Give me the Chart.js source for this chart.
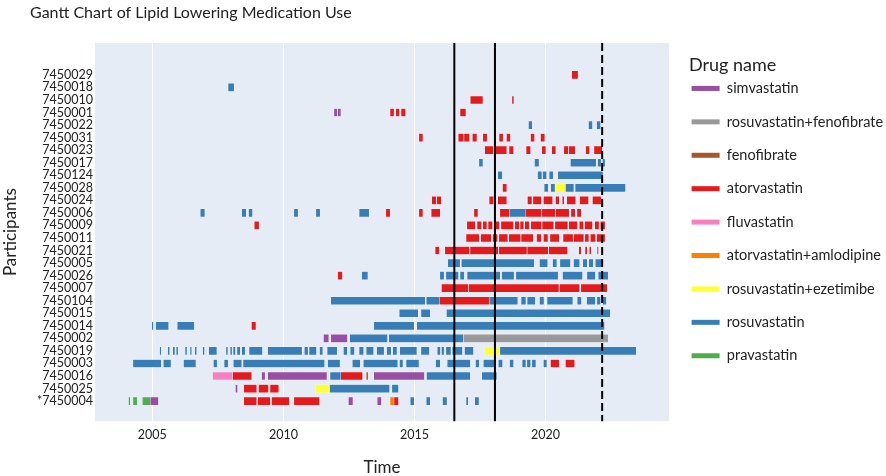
<!DOCTYPE html>
<html>
<head>
<meta charset="utf-8">
<title>Gantt Chart of Lipid Lowering Medication Use</title>
<script src="https://cdn.jsdelivr.net/npm/chart.js@4.4.1/dist/chart.umd.min.js"></script>
<style>
  html, body { margin: 0; padding: 0; background: #fff; }
  #wrap { width: 886px; height: 476px; }
</style>
</head>
<body>
<div id="wrap"><canvas id="gantt" width="886" height="476"></canvas></div>
<script>
// participants, top row first
const participants = ['7450029','7450018','7450010','7450001','7450022','7450031','7450023','7450017',
  '7450124','7450028','7450024','7450006','7450009','7450011','7450021','7450005','7450026','7450007',
  '7450104','7450015','7450014','7450002','7450019','7450003','7450016','7450025','*7450004'];

// [participant, start year, end year]
const simvastatin = [
  ['7450001', 2011.93, 2012.05], ['7450001', 2012.07, 2012.19],
  ['7450002', 2011.53, 2011.73], ['7450002', 2011.81, 2012.44],
  ['7450016', 2009.17, 2009.30], ['7450016', 2009.40, 2011.66], ['7450016', 2013.45, 2015.38],
  ['7450025', 2008.17, 2008.25],
  ['*7450004', 2004.92, 2005.23], ['*7450004', 2012.48, 2012.65], ['*7450004', 2013.58, 2013.74]
];
const rosuFeno = [['7450002', 2016.87, 2022.39]];
const fenofibrate = [['7450016', 2013.16, 2013.23]];
const atorvastatin = [
  ['7450029', 2021.00, 2021.24],
  ['7450010', 2017.13, 2017.61], ['7450010', 2018.72, 2018.79],
  ['7450001', 2014.07, 2014.22], ['7450001', 2014.29, 2014.43], ['7450001', 2014.49, 2014.66], ['7450001', 2016.74, 2016.96],
  ['7450031', 2015.17, 2015.32], ['7450031', 2016.67, 2016.88], ['7450031', 2016.89, 2017.10], ['7450031', 2017.21, 2017.38],
  ['7450031', 2017.61, 2017.77], ['7450031', 2018.23, 2018.38], ['7450031', 2018.51, 2018.66], ['7450031', 2019.43, 2019.58],
  ['7450031', 2019.81, 2019.97],
  ['7450023', 2017.68, 2018.01], ['7450023', 2018.02, 2018.52], ['7450023', 2018.61, 2018.78], ['7450023', 2019.26, 2019.43],
  ['7450023', 2019.86, 2020.01], ['7450023', 2020.24, 2020.39], ['7450023', 2020.70, 2020.87], ['7450023', 2020.89, 2021.13],
  ['7450023', 2021.53, 2021.68], ['7450023', 2021.85, 2022.16],
  ['7450028', 2018.36, 2018.52],
  ['7450024', 2015.66, 2015.83], ['7450024', 2015.85, 2016.02], ['7450024', 2017.85, 2018.02], ['7450024', 2018.18, 2018.52],
  ['7450024', 2019.31, 2019.48], ['7450024', 2019.52, 2019.84], ['7450024', 2019.92, 2020.27], ['7450024', 2020.38, 2020.52],
  ['7450024', 2020.64, 2020.71], ['7450024', 2020.81, 2021.15], ['7450024', 2021.30, 2021.64], ['7450024', 2021.79, 2022.12],
  ['7450006', 2013.91, 2014.07], ['7450006', 2015.17, 2015.32], ['7450006', 2015.64, 2015.98], ['7450006', 2017.27, 2017.42],
  ['7450006', 2018.26, 2018.63], ['7450006', 2019.25, 2019.85], ['7450006', 2019.86, 2020.37], ['7450006', 2020.38, 2020.90],
  ['7450006', 2020.97, 2021.13], ['7450006', 2021.20, 2021.36],
  ['7450009', 2008.89, 2009.07], ['7450009', 2017.00, 2017.32], ['7450009', 2017.39, 2017.56], ['7450009', 2017.61, 2017.76],
  ['7450009', 2017.81, 2017.98], ['7450009', 2018.03, 2018.24], ['7450009', 2018.30, 2018.78], ['7450009', 2018.83, 2019.00],
  ['7450009', 2019.03, 2019.17], ['7450009', 2019.21, 2019.38], ['7450009', 2019.44, 2019.85], ['7450009', 2019.87, 2020.31],
  ['7450009', 2020.36, 2020.85], ['7450009', 2020.89, 2021.22], ['7450009', 2021.29, 2021.45], ['7450009', 2021.49, 2021.79],
  ['7450009', 2021.88, 2022.04], ['7450009', 2022.09, 2022.27],
  ['7450011', 2016.97, 2017.47], ['7450011', 2017.53, 2017.93], ['7450011', 2017.98, 2018.17], ['7450011', 2018.22, 2018.56],
  ['7450011', 2018.60, 2019.05], ['7450011', 2019.07, 2019.53], ['7450011', 2019.66, 2019.84], ['7450011', 2019.92, 2020.09],
  ['7450011', 2020.17, 2020.52], ['7450011', 2020.67, 2021.05], ['7450011', 2021.07, 2021.46], ['7450011', 2021.50, 2021.65],
  ['7450011', 2021.71, 2021.91], ['7450011', 2021.95, 2022.27],
  ['7450021', 2015.79, 2015.95], ['7450021', 2016.16, 2017.10], ['7450021', 2017.12, 2018.20], ['7450021', 2018.22, 2019.29],
  ['7450021', 2019.30, 2020.10], ['7450021', 2020.12, 2020.84], ['7450021', 2021.27, 2021.36], ['7450021', 2021.51, 2021.59],
  ['7450021', 2021.67, 2021.74], ['7450021', 2021.97, 2022.02],
  ['7450026', 2012.07, 2012.25],
  ['7450007', 2016.03, 2017.06], ['7450007', 2017.07, 2020.51], ['7450007', 2020.53, 2021.30], ['7450007', 2021.35, 2022.35],
  ['7450104', 2015.95, 2017.85],
  ['7450014', 2008.78, 2008.95],
  ['7450003', 2020.19, 2020.52], ['7450003', 2020.76, 2021.11],
  ['7450016', 2008.07, 2008.79], ['7450016', 2012.19, 2013.02],
  ['7450025', 2008.49, 2008.98], ['7450025', 2009.05, 2009.43], ['7450025', 2009.49, 2009.82],
  ['*7450004', 2008.49, 2008.98], ['*7450004', 2009.02, 2009.50], ['*7450004', 2009.55, 2010.22], ['*7450004', 2010.40, 2011.38],
  ['*7450004', 2014.22, 2014.39]
];
const fluvastatin = [['7450016', 2007.30, 2008.07]];
const atorvAmlo = [['*7450004', 2014.07, 2014.22]];
const rosuEzet = [['7450028', 2020.37, 2020.75], ['7450019', 2017.67, 2018.26], ['7450025', 2011.22, 2011.76]];
const rosuvastatin = [
  ['7450018', 2007.89, 2008.12],
  ['7450022', 2019.35, 2019.49], ['7450022', 2021.64, 2021.79], ['7450022', 2021.95, 2022.10],
  ['7450017', 2017.46, 2017.61], ['7450017', 2019.58, 2019.75], ['7450017', 2020.95, 2021.93], ['7450017', 2021.99, 2022.12],
  ['7450017', 2022.17, 2022.27],
  ['7450124', 2018.18, 2018.35], ['7450124', 2019.70, 2019.86], ['7450124', 2019.89, 2020.04], ['7450124', 2020.14, 2020.29],
  ['7450124', 2020.47, 2022.19],
  ['7450028', 2019.95, 2020.10], ['7450028', 2020.20, 2020.36], ['7450028', 2020.76, 2021.08], ['7450028', 2021.13, 2023.05],
  ['7450006', 2006.83, 2007.00], ['7450006', 2008.41, 2008.58], ['7450006', 2008.67, 2008.82], ['7450006', 2010.40, 2010.56],
  ['7450006', 2011.24, 2011.40], ['7450006', 2012.89, 2013.27], ['7450006', 2018.63, 2019.25],
  ['7450005', 2016.27, 2016.74], ['7450005', 2016.79, 2019.57], ['7450005', 2019.77, 2020.08], ['7450005', 2020.27, 2020.43],
  ['7450005', 2020.55, 2020.95], ['7450005', 2021.07, 2021.30], ['7450005', 2021.42, 2021.59], ['7450005', 2021.65, 2021.82],
  ['7450005', 2021.90, 2022.20],
  ['7450026', 2012.99, 2013.22], ['7450026', 2015.97, 2016.13], ['7450026', 2016.20, 2016.68], ['7450026', 2016.74, 2016.90],
  ['7450026', 2017.01, 2018.27], ['7450026', 2018.33, 2018.80], ['7450026', 2018.87, 2020.48], ['7450026', 2020.65, 2021.41],
  ['7450026', 2021.58, 2021.90], ['7450026', 2022.01, 2022.39],
  ['7450104', 2011.81, 2015.41], ['7450104', 2015.45, 2015.95], ['7450104', 2017.85, 2018.94], ['7450104', 2019.07, 2019.25],
  ['7450104', 2019.30, 2019.61], ['7450104', 2019.77, 2019.94], ['7450104', 2020.06, 2021.04], ['7450104', 2021.21, 2021.37],
  ['7450104', 2021.57, 2021.90], ['7450104', 2021.96, 2022.10], ['7450104', 2022.18, 2022.32],
  ['7450015', 2014.42, 2015.14], ['7450015', 2015.25, 2015.60], ['7450015', 2016.22, 2022.47],
  ['7450014', 2004.98, 2005.04], ['7450014', 2005.13, 2005.62], ['7450014', 2005.95, 2006.60], ['7450014', 2013.45, 2014.99],
  ['7450014', 2015.09, 2022.25],
  ['7450002', 2012.53, 2013.97], ['7450002', 2014.02, 2016.87],
  ['7450019', 2005.28, 2005.34], ['7450019', 2005.59, 2005.66], ['7450019', 2005.78, 2005.86], ['7450019', 2005.91, 2005.98],
  ['7450019', 2006.25, 2006.32], ['7450019', 2006.44, 2006.50], ['7450019', 2006.62, 2006.69], ['7450019', 2006.92, 2006.99],
  ['7450019', 2007.15, 2007.46], ['7450019', 2007.81, 2007.88], ['7450019', 2007.97, 2008.04], ['7450019', 2008.08, 2008.17],
  ['7450019', 2008.23, 2008.35], ['7450019', 2008.41, 2008.54], ['7450019', 2008.69, 2009.20], ['7450019', 2009.40, 2010.71],
  ['7450019', 2010.80, 2010.94], ['7450019', 2010.98, 2011.26], ['7450019', 2011.38, 2011.50], ['7450019', 2011.67, 2012.05],
  ['7450019', 2012.29, 2012.44], ['7450019', 2012.55, 2012.71], ['7450019', 2012.89, 2013.06], ['7450019', 2013.16, 2013.44],
  ['7450019', 2013.56, 2013.84], ['7450019', 2013.94, 2014.11], ['7450019', 2014.17, 2014.33], ['7450019', 2014.44, 2015.09],
  ['7450019', 2015.25, 2015.57], ['7450019', 2015.87, 2015.99], ['7450019', 2016.03, 2016.13], ['7450019', 2016.20, 2016.39],
  ['7450019', 2016.44, 2016.83], ['7450019', 2016.91, 2017.25], ['7450019', 2018.26, 2023.46],
  ['7450003', 2004.26, 2005.34], ['7450003', 2005.42, 2005.71], ['7450003', 2006.19, 2006.66], ['7450003', 2007.33, 2007.47],
  ['7450003', 2007.74, 2007.89], ['7450003', 2008.09, 2008.41], ['7450003', 2008.46, 2011.57], ['7450003', 2011.69, 2012.16],
  ['7450003', 2012.63, 2012.93], ['7450003', 2013.05, 2014.36], ['7450003', 2014.43, 2014.56], ['7450003', 2014.68, 2015.17],
  ['7450003', 2015.81, 2015.98], ['7450003', 2016.25, 2017.13], ['7450003', 2017.33, 2017.47], ['7450003', 2017.63, 2018.04],
  ['7450003', 2018.20, 2018.36], ['7450003', 2018.63, 2018.78], ['7450003', 2019.11, 2019.25], ['7450003', 2019.29, 2019.43],
  ['7450003', 2019.48, 2019.63], ['7450003', 2019.92, 2020.05],
  ['7450016', 2011.78, 2012.19], ['7450016', 2015.46, 2017.13], ['7450016', 2017.57, 2018.14],
  ['7450025', 2011.76, 2014.05], ['7450025', 2014.14, 2014.39],
  ['*7450004', 2014.84, 2014.99], ['*7450004', 2015.45, 2015.60], ['*7450004', 2016.07, 2016.24], ['*7450004', 2016.97, 2017.05],
  ['*7450004', 2017.30, 2017.46]
];
const pravastatin = [['*7450004', 2004.09, 2004.16], ['*7450004', 2004.26, 2004.42], ['*7450004', 2004.62, 2004.92]];

const drugNames = ['simvastatin', 'rosuvastatin+fenofibrate', 'fenofibrate', 'atorvastatin', 'fluvastatin',
  'atorvastatin+amlodipine', 'rosuvastatin+ezetimibe', 'rosuvastatin', 'pravastatin'];
const drugSpans = [simvastatin, rosuFeno, fenofibrate, atorvastatin, fluvastatin, atorvAmlo, rosuEzet, rosuvastatin, pravastatin];
const drugColors = ['#984EA3', '#999999', '#A65628', '#E41A1C', '#F781BF', '#FF7F00', '#FFFF33', '#377EB8', '#4DAF4A'];

const xTickYears = [2005, 2010, 2015, 2020];
const solidLineYears = [2016.52, 2018.07];
const dashedLineYears = [2022.16];

const FONT = "Lato, 'Open Sans', sans-serif";
const TEXT = '#222222';

// plot background + reference lines + page title
const decorations = {
  id: 'decorations',
  beforeDraw(chart) {
    const {ctx, chartArea: a} = chart;
    ctx.save();
    ctx.fillStyle = '#E5ECF6';
    ctx.fillRect(a.left, a.top, a.right - a.left, a.bottom - a.top);
    ctx.restore();
  },
  afterDatasetsDraw(chart) {
    const {ctx, chartArea: a} = chart;
    const xs = chart.scales.x;
    ctx.save();
    ctx.strokeStyle = '#000';
    ctx.lineWidth = 2;
    solidLineYears.forEach(v => {
      const px = xs.getPixelForValue(v);
      ctx.beginPath(); ctx.moveTo(px, a.top); ctx.lineTo(px, a.bottom); ctx.stroke();
    });
    ctx.setLineDash([8, 4]);
    dashedLineYears.forEach(v => {
      const px = xs.getPixelForValue(v);
      ctx.beginPath(); ctx.moveTo(px, a.top); ctx.lineTo(px, a.bottom); ctx.stroke();
    });
    ctx.restore();
  },
  afterDraw(chart) {
    const ctx = chart.ctx;
    ctx.save();
    ctx.fillStyle = TEXT;
    ctx.font = "16px " + FONT;
    ctx.textBaseline = 'middle';
    ctx.fillText('Gantt Chart of Lipid Lowering Medication Use', 30, 12.5);
    ctx.restore();
  }
};

const datasets = drugNames.map((name, i) => ({
  label: name,
  data: drugSpans[i].map(s => ({ x: [s[1], s[2]], y: participants.indexOf(s[0]) })),
  backgroundColor: drugColors[i],
  borderColor: 'rgba(255,255,255,0.45)',
  borderWidth: 0.5,
  borderSkipped: false,
  barThickness: 8,
  grouped: false
}));

new Chart(document.getElementById('gantt').getContext('2d'), {
  type: 'bar',
  data: { datasets },
  plugins: [decorations],
  options: {
    indexAxis: 'y',
    responsive: false,
    animation: false,
    layout: { padding: { top: 43, left: 0, right: 0, bottom: 0 } },
    scales: {
      x: {
        type: 'linear',
        min: 2002.81,
        max: 2024.71,
        afterBuildTicks: s => { s.ticks = xTickYears.map(v => ({ value: v })); },
        ticks: { callback: v => String(v), font: { family: FONT, size: 12.5 }, color: TEXT, padding: 6.2, maxRotation: 0 },
        grid: { color: '#ffffff', lineWidth: 1, drawTicks: false },
        border: { display: false },
        title: { display: true, text: 'Time', font: { family: FONT, size: 17, lineHeight: 1 }, color: TEXT, padding: { top: 10.4, bottom: 0 } }
      },
      y: {
        type: 'linear',
        reverse: true,
        min: -2.04,
        max: 27.1,
        ticks: {
          stepSize: 1, autoSkip: false, maxTicksLimit: 100, includeBounds: false,
          callback: v => participants[v] !== undefined ? participants[v] : '',
          font: { family: FONT, size: 12.5 }, color: TEXT, padding: 2
        },
        grid: { display: false, drawTicks: false },
        border: { display: false },
        title: { display: true, text: 'Participants', font: { family: FONT, size: 17 }, color: TEXT, padding: { top: 0, bottom: 14.5 } }
      },
      gap: {
        type: 'linear',
        position: 'right',
        display: true,
        grid: { display: false, drawTicks: false },
        border: { display: false },
        ticks: { display: false },
        afterFit: s => { s.width = 20; }
      }
    },
    plugins: {
      tooltip: { enabled: false },
      legend: {
        position: 'right',
        align: 'start',
        maxWidth: 197,
        title: { display: true, text: 'Drug name', position: 'start', color: TEXT,
                 font: { family: FONT, size: 18 }, padding: { top: 13.5, bottom: 0.5 } },
        labels: {
          boxWidth: 28,
          boxHeight: 5,
          padding: 2.6,
          color: TEXT,
          font: { family: FONT, size: 14.5, lineHeight: 2.125 },
          generateLabels: chart => chart.data.datasets.map((ds, i) => ({
            text: [ds.label],
            fillStyle: ds.backgroundColor,
            strokeStyle: ds.backgroundColor,
            lineWidth: 0,
            hidden: false,
            datasetIndex: i,
            fontColor: TEXT
          }))
        }
      }
    }
  }
});
</script>
</body>
</html>
